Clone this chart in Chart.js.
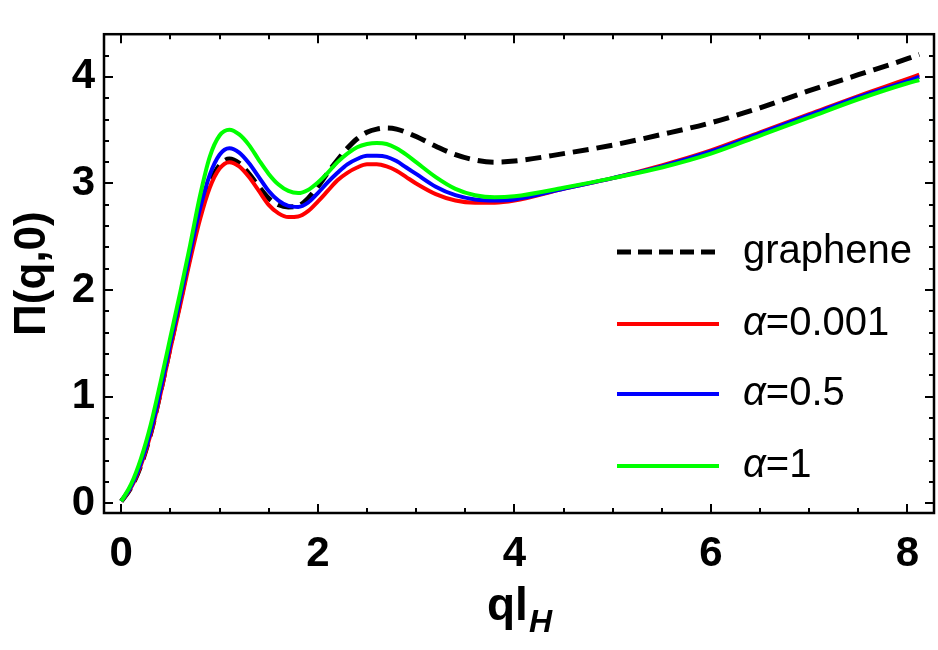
<!DOCTYPE html>
<html>
<head>
<meta charset="utf-8">
<script src="https://cdn.jsdelivr.net/npm/chart.js@4.4.1/dist/chart.umd.min.js"></script>
<style>
  html, body { margin: 0; padding: 0; background: #fff; }
  #wrap { width: 938px; height: 650px; }
</style>
</head>
<body>
<div id="wrap"><canvas id="c" width="938" height="650"></canvas></div>
<script>
// q l_H values (shared by all series)
const qlH = [0,0.1,0.2,0.3,0.4,0.5,0.6,0.7,0.8,0.9,1.0,
             1.1,1.2,1.3,1.4,1.5,1.6,1.7,1.8,1.9,2.0,
             2.1,2.2,2.3,2.4,2.5,2.6,2.7,2.8,2.9,3.0,
             3.2,3.4,3.6,3.8,4.0,
             4.5,5.0,5.5,6.0,6.5,7.0,7.5,8.0,8.12];

const graphene = [0.02,0.15,0.36,0.66,1.05,1.48,1.90,2.33,2.72,3.00,3.17,
                  3.23,3.19,3.09,2.97,2.86,2.80,2.78,2.79,2.86,2.97,
                  3.10,3.22,3.33,3.42,3.48,3.51,3.52,3.51,3.48,3.44,
                  3.35,3.27,3.22,3.20,3.21,
                  3.28,3.36,3.46,3.57,3.71,3.87,4.02,4.17,4.21];

const alpha0001 = [0.02,0.15,0.36,0.65,1.03,1.45,1.86,2.28,2.66,2.96,3.14,
                   3.20,3.16,3.06,2.93,2.80,2.72,2.685,2.69,2.74,2.83,
                   2.93,3.03,3.10,3.15,3.18,3.18,3.16,3.12,3.06,3.00,
                   2.90,2.84,2.82,2.82,2.84,
                   2.95,3.05,3.17,3.31,3.48,3.65,3.82,3.98,4.02];

const alpha05 = [0.02,0.16,0.38,0.68,1.07,1.50,1.92,2.35,2.76,3.08,3.27,
                 3.33,3.29,3.19,3.06,2.93,2.84,2.79,2.78,2.82,2.91,
                 3.01,3.10,3.18,3.23,3.26,3.26,3.25,3.21,3.15,3.09,
                 2.97,2.89,2.85,2.84,2.85,
                 2.95,3.05,3.16,3.30,3.47,3.64,3.81,3.96,4.00];

const alpha1 = [0.02,0.18,0.42,0.74,1.14,1.56,1.98,2.42,2.88,3.25,3.45,
                3.505,3.46,3.36,3.22,3.09,2.99,2.93,2.91,2.94,3.01,
                3.10,3.20,3.28,3.34,3.37,3.38,3.37,3.33,3.27,3.20,
                3.06,2.95,2.89,2.87,2.88,
                2.96,3.05,3.15,3.28,3.45,3.62,3.79,3.94,3.97];

const xTickValues = [0,2,4,6,8];
const yTickValues = [0,1,2,3,4];
const legendNames = ['graphene','\u03b1=0.001','\u03b1=0.5','\u03b1=1'];
const xTitle = 'ql';
const xTitleSub = 'H';
const yTitle = '\u03a0(q,0)';

const toPts = arr => arr.map((v,i)=>({x:qlH[i], y:v}));

const FONT = '"Liberation Sans", Arial, sans-serif';

const framePlugin = {
  id: 'frame',
  afterDatasetsDraw(chart) {
    const ctx = chart.ctx, a = chart.chartArea;
    const xs = chart.scales.x, ys = chart.scales.y;
    ctx.save();
    ctx.strokeStyle = '#000';
    ctx.lineWidth = 2;
    for (let v = 0; v <= xs.max + 1e-9; v += 0.5) {
      const px = Math.round(xs.getPixelForValue(v));
      const major = Math.abs(v/2 - Math.round(v/2)) < 1e-6;
      const L = major ? 9 : 5;
      ctx.beginPath();
      ctx.moveTo(px, a.bottom); ctx.lineTo(px, a.bottom - L);
      ctx.moveTo(px, a.top); ctx.lineTo(px, a.top + L);
      ctx.stroke();
    }
    for (let k = 0; k <= 22; k++) {
      const v = k*0.2;
      if (v > ys.max + 1e-9) break;
      const py = Math.round(ys.getPixelForValue(v));
      const major = k % 5 === 0;
      const L = major ? 9 : 5;
      ctx.beginPath();
      ctx.moveTo(a.left, py); ctx.lineTo(a.left + L, py);
      ctx.moveTo(a.right, py); ctx.lineTo(a.right - L, py);
      ctx.stroke();
    }
    ctx.lineWidth = 2.5;
    ctx.strokeRect(a.left, a.top, a.right - a.left, a.bottom - a.top);

    // axis titles
    ctx.fillStyle = '#000';
    ctx.save();
    ctx.translate(33, (a.top + a.bottom)/2);
    ctx.rotate(-Math.PI/2);
    ctx.font = 'bold 44px ' + FONT;
    ctx.textAlign = 'center';
    ctx.textBaseline = 'middle';
    ctx.fillText(yTitle, 0, 0);
    ctx.restore();

    ctx.font = 'bold 46px ' + FONT;
    const w1 = ctx.measureText(xTitle).width;
    ctx.font = 'italic bold 32px ' + FONT;
    const w2 = ctx.measureText(xTitleSub).width;
    const cx = (a.left + a.right)/2;
    let sx = cx - (w1 + w2)/2;
    ctx.textAlign = 'left';
    ctx.textBaseline = 'alphabetic';
    ctx.font = 'bold 46px ' + FONT;
    ctx.fillText(xTitle, sx, 620);
    ctx.font = 'italic bold 32px ' + FONT;
    ctx.fillText(xTitleSub, sx + w1 + 1, 632);

    // legend
    const ds = chart.data.datasets;
    const lx0 = a.right - 317, lx1 = a.right - 215, tx = a.right - 191;
    const rowsY = [252, 324, 394, 466];
    ds.forEach((d, i) => {
      const y = rowsY[i];
      ctx.save();
      ctx.strokeStyle = d.borderColor;
      ctx.lineWidth = d.borderWidth || 4;
      ctx.setLineDash(d.borderDash ? [14, 7] : []);
      ctx.beginPath();
      ctx.moveTo(lx0, y); ctx.lineTo(lx1, y);
      ctx.stroke();
      ctx.restore();
      const name = legendNames[i];
      ctx.fillStyle = '#000';
      ctx.textBaseline = 'alphabetic';
      if (name.charAt(0) === '\u03b1') {
        ctx.font = 'italic 40px ' + FONT;
        ctx.fillText('\u03b1', tx, y + 11);
        const wa = ctx.measureText('\u03b1').width;
        ctx.font = '40px ' + FONT;
        ctx.fillText(name.slice(1), tx + wa, y + 11);
      } else {
        ctx.font = '40px ' + FONT;
        ctx.fillText(name, tx, y + 11);
      }
    });
    ctx.restore();
  }
};

new Chart(document.getElementById('c'), {
  type: 'line',
  data: {
    datasets: [
      { label: 'graphene', data: toPts(graphene), borderColor: '#000000', borderWidth: 5, borderDash: [16, 8], order: 4 },
      { label: '\u03b1=0.001', data: toPts(alpha0001), borderColor: '#ff0000', order: 3 },
      { label: '\u03b1=0.5', data: toPts(alpha05), borderColor: '#0000ff', order: 2 },
      { label: '\u03b1=1', data: toPts(alpha1), borderColor: '#00ff00', order: 1 }
    ]
  },
  options: {
    responsive: false,
    animation: false,
    devicePixelRatio: 1,
    layout: { padding: { top: 2, right: 4, left: 0, bottom: 0 } },
    elements: {
      line: { borderWidth: 4, cubicInterpolationMode: 'monotone', fill: false },
      point: { radius: 0 }
    },
    plugins: { legend: { display: false }, tooltip: { enabled: false } },
    scales: {
      x: {
        type: 'linear', min: -0.176, max: 8.27,
        afterFit: s => { s.height = 137; },
        afterBuildTicks: s => { s.ticks = xTickValues.map(v => ({ value: v })); },
        ticks: { font: { family: FONT, weight: 'bold', size: 42 }, color: '#000', padding: 16, maxRotation: 0, autoSkip: false, includeBounds: false },
        grid: { display: false, drawTicks: false },
        border: { display: false }
      },
      y: {
        type: 'linear', min: -0.09, max: 4.40,
        afterFit: s => { s.width = 104; },
        afterBuildTicks: s => { s.ticks = yTickValues.map(v => ({ value: v })); },
        ticks: { font: { family: FONT, weight: 'bold', size: 42 }, color: '#000', padding: 9, autoSkip: false, includeBounds: false },
        grid: { display: false, drawTicks: false },
        border: { display: false }
      }
    }
  },
  plugins: [framePlugin]
});
</script>
</body>
</html>
